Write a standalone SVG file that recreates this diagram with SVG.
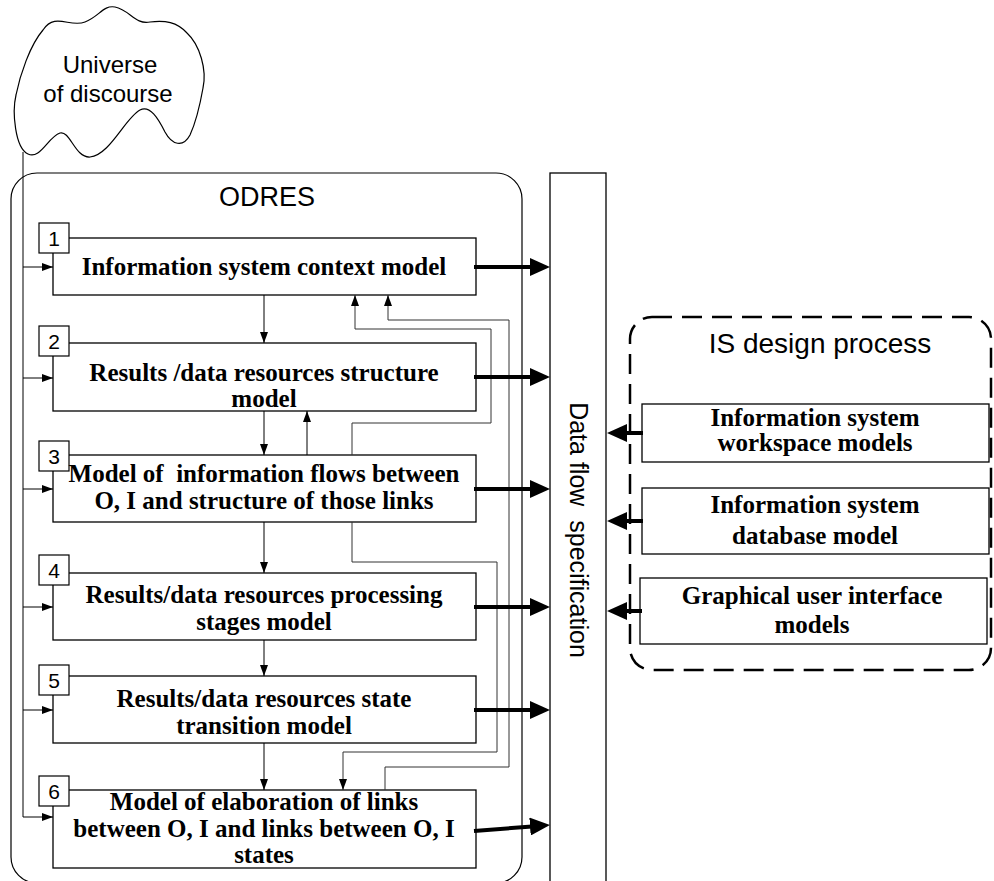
<svg xmlns="http://www.w3.org/2000/svg" width="994" height="881" viewBox="0 0 994 881">
<style>
.box{fill:#fff;stroke:#000;stroke-width:1.3}
.num{fill:#fff;stroke:#000;stroke-width:1.2}
.nt{font-family:"Liberation Sans",Arial,sans-serif;font-size:21px;text-anchor:middle;fill:#000}
.bt{font-family:"Liberation Serif","Times New Roman",serif;font-size:25px;font-weight:bold;text-anchor:middle;fill:#000;white-space:pre}
.lbl{font-family:"Liberation Sans",Arial,sans-serif;text-anchor:middle;fill:#000}
.thin{fill:none;stroke:#000;stroke-width:1}
.fb{fill:none;stroke:#333;stroke-width:1}
.thick{fill:none;stroke:#000;stroke-width:4}
</style>
<defs>
<marker id="ah" viewBox="0 0 11 8" refX="11" refY="4" markerWidth="11" markerHeight="8" markerUnits="userSpaceOnUse" orient="auto"><path d="M0,0 L11,4 L0,8 z" fill="#000"/></marker>
<marker id="ahT" viewBox="0 0 20 18" refX="2" refY="9" markerWidth="20" markerHeight="18" markerUnits="userSpaceOnUse" orient="auto"><path d="M0,0 L20,9 L0,18 z" fill="#000"/></marker>
</defs>
<rect width="994" height="881" fill="#fff"/>

<g id="cloud">
<path d="M43,30 C55,12 70,28 85,22 C100,16 103,5 115,7 C130,10 135,25 150,22 C165,20 177,22 187,33 C200,45 207,70 203,88 C200,105 196,122 190,135 C183,148 172,145 165,132 C158,118 150,105 140,110 C125,118 110,155 90,157 C75,158 70,130 60,133 C48,137 40,160 28,154 C15,148 12,112 16,95 C20,75 30,45 43,30 Z" fill="#fff" stroke="#000" stroke-width="1.2"/>
<text class="lbl" x="110" y="73" font-size="24">Universe</text>
<text class="lbl" x="108" y="102" font-size="24">of discourse</text>
</g>

<g id="odres">
<rect x="11" y="173" width="511" height="710" rx="26" fill="none" stroke="#000" stroke-width="1.2"/>
<text class="lbl" x="267" y="206" font-size="27">ODRES</text>
</g>

<g id="dataflow">
<rect x="550" y="173" width="56" height="720" fill="#fff" stroke="#000" stroke-width="1.3"/>
<text class="lbl" font-size="25" style="white-space:pre" transform="translate(570,530) rotate(90)">Data flow  specification</text>
</g>

<g id="isdesign">
<rect x="630" y="317" width="361" height="353" rx="22" fill="none" stroke="#000" stroke-width="2.5" stroke-dasharray="20 10"/>
<text class="lbl" x="820" y="353" font-size="28">IS design process</text>
</g>

<g id="b1">
<rect class="box" x="53" y="238" width="423" height="57"/>
<rect class="num" x="39" y="223" width="30" height="30"/>
<text class="nt" x="54" y="246">1</text>
<text class="bt" x="264" y="275">Information system context model</text>
</g>
<g id="b2">
<rect class="box" x="53" y="343" width="423" height="68"/>
<rect class="num" x="39" y="326" width="30" height="30"/>
<text class="nt" x="54" y="349">2</text>
<text class="bt" x="264" y="381">Results /data resources structure</text>
<text class="bt" x="264" y="407">model</text>
</g>
<g id="b3">
<rect class="box" x="53" y="455" width="423" height="67"/>
<rect class="num" x="39" y="441" width="30" height="30"/>
<text class="nt" x="54" y="464">3</text>
<text class="bt" x="264" y="482">Model of  information flows between</text>
<text class="bt" x="264" y="509">O, I and structure of those links</text>
</g>
<g id="b4">
<rect class="box" x="53" y="573" width="423" height="67"/>
<rect class="num" x="39" y="555" width="30" height="30"/>
<text class="nt" x="54" y="578">4</text>
<text class="bt" x="264" y="603">Results/data resources processing</text>
<text class="bt" x="264" y="630">stages model</text>
</g>
<g id="b5">
<rect class="box" x="53" y="676" width="423" height="67"/>
<rect class="num" x="39" y="665" width="30" height="30"/>
<text class="nt" x="54" y="688">5</text>
<text class="bt" x="264" y="707">Results/data resources state</text>
<text class="bt" x="264" y="734">transition model</text>
</g>
<g id="b6">
<rect class="box" x="53" y="790" width="423" height="78"/>
<rect class="num" x="39" y="776" width="30" height="30"/>
<text class="nt" x="54" y="799">6</text>
<text class="bt" x="264" y="810">Model of elaboration of links</text>
<text class="bt" x="264" y="837">between O, I and links between O, I</text>
<text class="bt" x="264" y="863">states</text>
</g>

<g id="r1">
<rect class="box" x="642" y="404" width="347" height="58"/>
<text class="bt" x="815" y="426">Information system</text>
<text class="bt" x="815" y="451">workspace models</text>
</g>
<g id="r2">
<rect class="box" x="642" y="488" width="347" height="66"/>
<text class="bt" x="815" y="513">Information system</text>
<text class="bt" x="815" y="544">database model</text>
</g>
<g id="r3">
<rect class="box" x="640" y="578" width="347" height="66"/>
<text class="bt" x="812" y="604">Graphical user interface</text>
<text class="bt" x="812" y="633">models</text>
</g>

<g id="connectors">
<path class="thin" d="M23,152 V817"/>
<path class="thin" d="M23,267 H53" marker-end="url(#ah)"/>
<path class="thin" d="M23,378 H53" marker-end="url(#ah)"/>
<path class="thin" d="M23,489 H53" marker-end="url(#ah)"/>
<path class="thin" d="M23,607 H53" marker-end="url(#ah)"/>
<path class="thin" d="M23,710 H53" marker-end="url(#ah)"/>
<path class="thin" d="M23,817 H53" marker-end="url(#ah)"/>

<path class="thin" d="M264,295 V343" marker-end="url(#ah)"/>
<path class="thin" d="M264,411 V455" marker-end="url(#ah)"/>
<path class="thin" d="M264,522 V573" marker-end="url(#ah)"/>
<path class="thin" d="M264,640 V676" marker-end="url(#ah)"/>
<path class="thin" d="M264,743 V790" marker-end="url(#ah)"/>
<path class="thin" d="M307,455 V411" marker-end="url(#ah)"/>

<path class="fb" d="M352,455 V423 H491 V329 H355 V295" marker-end="url(#ah)"/>
<path class="fb" d="M385,790 V767 H509 V320 H388 V295" marker-end="url(#ah)"/>
<path class="fb" d="M352,522 V562 H497 V752 H343 V790" marker-end="url(#ah)"/>

<path class="thick" d="M474,267 H532" marker-end="url(#ahT)"/>
<path class="thick" d="M474,377 H532" marker-end="url(#ahT)"/>
<path class="thick" d="M474,489 H532" marker-end="url(#ahT)"/>
<path class="thick" d="M474,607 H532" marker-end="url(#ahT)"/>
<path class="thick" d="M474,710 H532" marker-end="url(#ahT)"/>
<path class="thick" d="M474,831 L532,826.4" marker-end="url(#ahT)"/>

<path class="thick" d="M643,433 H625" marker-end="url(#ahT)"/>
<path class="thick" d="M643,521 H625" marker-end="url(#ahT)"/>
<path class="thick" d="M642,611 H625" marker-end="url(#ahT)"/>
</g>
</svg>
